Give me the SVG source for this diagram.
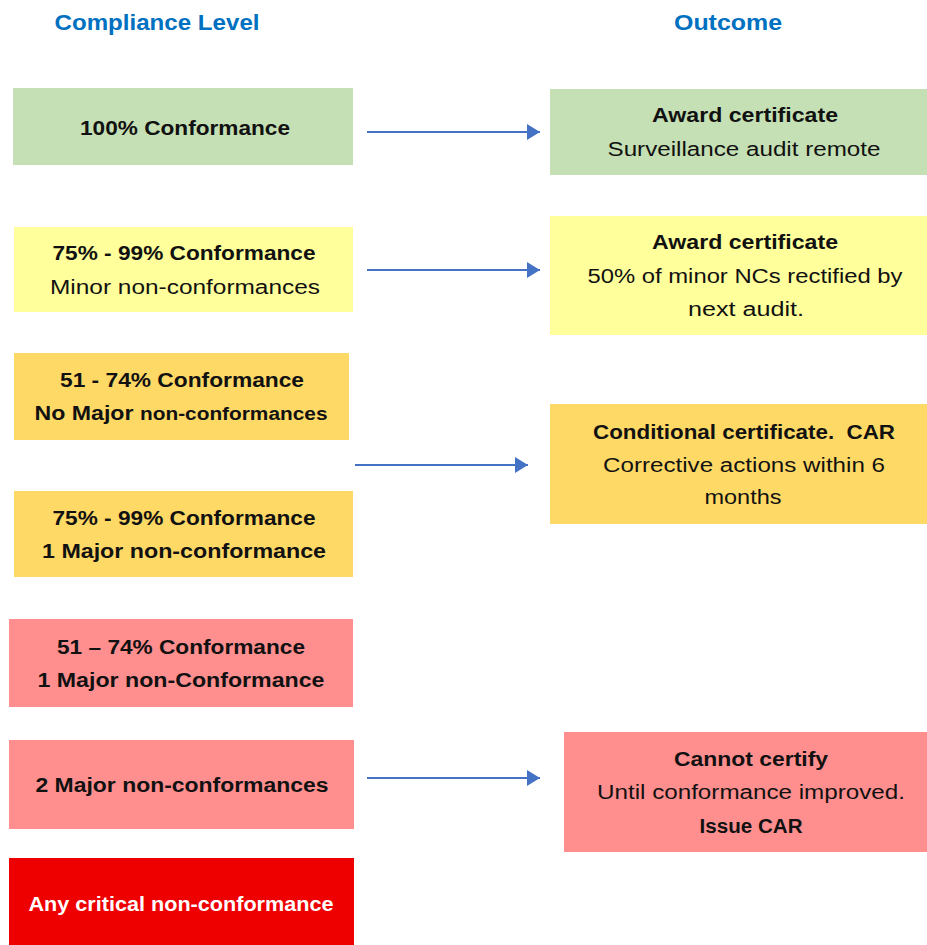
<svg xmlns="http://www.w3.org/2000/svg" width="927" height="945" viewBox="0 0 927 945">
<defs>
<style>
text{font-family:"Liberation Sans",Arial,sans-serif;text-anchor:middle;fill:#111}
.h{font-size:22px;font-weight:bold;fill:#0070C0}
.b{font-size:20px;font-weight:bold}
.r{font-size:20px}
.s{font-size:18px}
.w{fill:#fff}
.green{fill:#C5E0B4}
.yellow{fill:#FFFF9B}
.orange{fill:#FFD966}
.pink{fill:#FF8F8F}
.red{fill:#EE0000}
.conn line{stroke:#4472C4;stroke-width:2.2}
</style>
<marker id="ah" markerWidth="13" markerHeight="16" refX="13" refY="8" orient="auto" markerUnits="userSpaceOnUse">
<path d="M0,0 L13,8 L0,16 Z" fill="#4472C4"/>
</marker>
</defs>
<rect width="927" height="945" fill="#fff"/>
<g id="headers">
<text class="h" x="157" y="30" textLength="205" lengthAdjust="spacingAndGlyphs">Compliance Level</text>
<text class="h" x="728" y="30" textLength="108" lengthAdjust="spacingAndGlyphs">Outcome</text>
</g>
<g id="l1">
<rect class="green" x="13" y="88" width="340" height="77"/>
<text class="b" x="185" y="135" textLength="210" lengthAdjust="spacingAndGlyphs">100% Conformance</text>
</g>
<g id="l2">
<rect class="yellow" x="14" y="227" width="339" height="85"/>
<text class="b" x="184" y="260" textLength="263" lengthAdjust="spacingAndGlyphs">75% - 99% Conformance</text>
<text class="r" x="185" y="294" textLength="270" lengthAdjust="spacingAndGlyphs">Minor non-conformances</text>
</g>
<g id="l3">
<rect class="orange" x="14" y="353" width="335" height="87"/>
<text class="b" x="182" y="387" textLength="244" lengthAdjust="spacingAndGlyphs">51 - 74% Conformance</text>
<text class="b" x="181" y="420" textLength="293" lengthAdjust="spacingAndGlyphs">No Major <tspan class="s">non-conformances</tspan></text>
</g>
<g id="l4">
<rect class="orange" x="14" y="491" width="339" height="86"/>
<text class="b" x="184" y="525" textLength="263" lengthAdjust="spacingAndGlyphs">75% - 99% Conformance</text>
<text class="b" x="184" y="558" textLength="284" lengthAdjust="spacingAndGlyphs">1 Major non-conformance</text>
</g>
<g id="l5">
<rect class="pink" x="9" y="619" width="344" height="88"/>
<text class="b" x="181" y="654" textLength="248" lengthAdjust="spacingAndGlyphs">51 – 74% Conformance</text>
<text class="b" x="181" y="687" textLength="287" lengthAdjust="spacingAndGlyphs">1 Major non-Conformance</text>
</g>
<g id="l6">
<rect class="pink" x="9" y="740" width="345" height="89"/>
<text class="b" x="182" y="792" textLength="293" lengthAdjust="spacingAndGlyphs">2 Major non-conformances</text>
</g>
<g id="l7">
<rect class="red" x="9" y="858" width="345" height="87"/>
<text class="b w" x="181" y="911" textLength="305" lengthAdjust="spacingAndGlyphs">Any critical non-conformance</text>
</g>
<g id="o1">
<rect class="green" x="550" y="89" width="377" height="86"/>
<text class="b" x="745" y="122" textLength="186" lengthAdjust="spacingAndGlyphs">Award certificate</text>
<text class="r" x="744" y="156" textLength="273" lengthAdjust="spacingAndGlyphs">Surveillance audit remote</text>
</g>
<g id="o2">
<rect class="yellow" x="550" y="216" width="377" height="119"/>
<text class="b" x="745" y="249" textLength="186" lengthAdjust="spacingAndGlyphs">Award certificate</text>
<text class="r" x="745" y="283" textLength="315" lengthAdjust="spacingAndGlyphs">50% of minor NCs rectified by</text>
<text class="r" x="746" y="316" textLength="116" lengthAdjust="spacingAndGlyphs">next audit.</text>
</g>
<g id="o3">
<rect class="orange" x="550" y="404" width="377" height="120"/>
<text class="b" x="744" y="439" textLength="302" lengthAdjust="spacingAndGlyphs">Conditional certificate.&#160; CAR</text>
<text class="r" x="744" y="472" textLength="282" lengthAdjust="spacingAndGlyphs">Corrective actions within 6</text>
<text class="r" x="743" y="504" textLength="77" lengthAdjust="spacingAndGlyphs">months</text>
</g>
<g id="o4">
<rect class="pink" x="564" y="732" width="363" height="120"/>
<text class="b" x="751" y="766" textLength="154" lengthAdjust="spacingAndGlyphs">Cannot certify</text>
<text class="r" x="751" y="799" textLength="308" lengthAdjust="spacingAndGlyphs">Until conformance improved.</text>
<text class="b" x="751" y="833" textLength="103" lengthAdjust="spacingAndGlyphs">Issue CAR</text>
</g>
<g id="connectors" class="conn">
<line x1="367" y1="132" x2="540" y2="132" marker-end="url(#ah)"/>
<line x1="367" y1="270" x2="540" y2="270" marker-end="url(#ah)"/>
<line x1="355" y1="465" x2="528" y2="465" marker-end="url(#ah)"/>
<line x1="367" y1="778" x2="540" y2="778" marker-end="url(#ah)"/>
</g>
</svg>
